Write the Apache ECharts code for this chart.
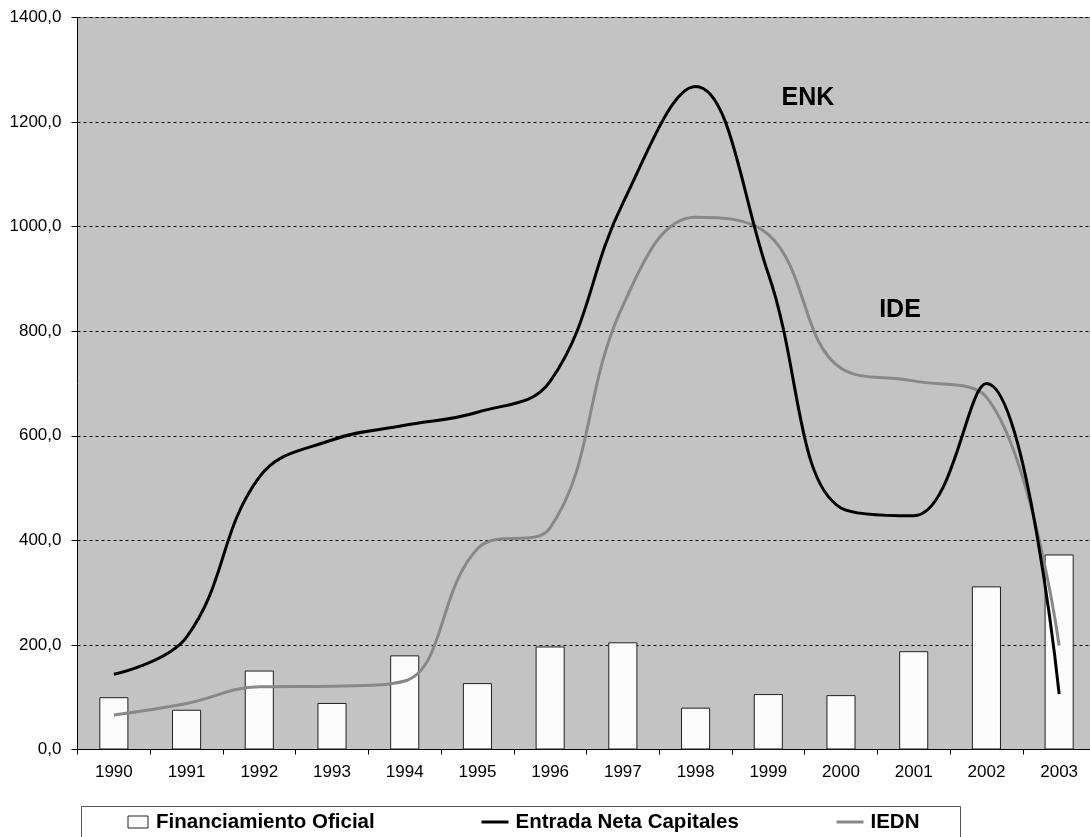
<!DOCTYPE html>
<html>
<head>
<meta charset="utf-8">
<script src="https://cdn.jsdelivr.net/npm/echarts@6/dist/echarts.min.js"></script>
<style>
html,body{margin:0;padding:0;background:#fff;}
#c{width:1090px;height:837px;}
</style>
</head>
<body>
<div id="c"></div>
<script>
const years = ['1990','1991','1992','1993','1994','1995','1996','1997','1998','1999','2000','2001','2002','2003'];
const financiamiento = [100, 76, 151, 89, 180, 127, 197, 205, 80, 106, 104, 188, 312, 373];
const entradaNeta = [144, 215, 521, 592, 620, 645, 704, 1045, 1268, 910, 462, 447, 700, 106];
const iedn = [66, 88, 120, 121, 131, 384, 424, 849, 1018, 985, 729, 705, 674, 199];
const yTicks = { min: 0, max: 1400, interval: 200 };

const FONT = '"Liberation Sans", Arial, sans-serif';
const chart = echarts.init(document.getElementById('c'), null, { renderer: 'canvas' });

chart.setOption({
  animation: false,
  backgroundColor: '#ffffff',
  grid: {
    left: 77.5, right: -5.5, top: 17.5, bottom: 87.5,
    show: true, backgroundColor: '#c3c3c3', borderColor: '#8a8a8a', borderWidth: 1,
    containLabel: false, outerBoundsMode: 'none'
  },
  xAxis: {
    type: 'category',
    data: years,
    boundaryGap: true,
    axisLine: { lineStyle: { color: '#000', width: 1 } },
    axisTick: { show: true, interval: 0, length: 5, lineStyle: { color: '#000' } },
    axisLabel: { interval: 0, color: '#000', fontFamily: FONT, fontSize: 17, margin: 14 },
    splitLine: { show: false }
  },
  yAxis: {
    type: 'value',
    min: yTicks.min, max: yTicks.max, interval: yTicks.interval,
    axisLine: { show: true, lineStyle: { color: '#000', width: 1 } },
    axisTick: { show: true, length: 6, lineStyle: { color: '#000' } },
    axisLabel: {
      color: '#000', fontFamily: FONT, fontSize: 17, margin: 16,
      formatter: v => v.toFixed(1).replace('.', ',')
    },
    splitLine: { show: true, lineStyle: { color: '#000', width: 1, type: [3, 3] } }
  },
  legend: [
    {
      data: [{ name: 'Financiamiento Oficial', icon: 'rect' }],
      left: 127.5, top: 811, padding: 0,
      itemWidth: 20, itemHeight: 12,
      itemStyle: { color: '#fcfcfc', borderColor: '#202020', borderWidth: 1 },
      textStyle: { fontFamily: FONT, fontSize: 20.5, fontWeight: 'bold', color: '#000', lineHeight: 22, padding: [0, 0, 0, 3] }
    },
    {
      data: [{ name: 'Entrada Neta Capitales', icon: 'rect' }],
      left: 481.5, top: 811, padding: 0,
      itemWidth: 27, itemHeight: 3,
      textStyle: { fontFamily: FONT, fontSize: 20.5, fontWeight: 'bold', color: '#000', lineHeight: 22, padding: [0, 0, 0, 2] }
    },
    {
      data: [{ name: 'IEDN', icon: 'rect' }],
      left: 836.5, top: 811, padding: 0,
      itemWidth: 27, itemHeight: 3,
      textStyle: { fontFamily: FONT, fontSize: 20.5, fontWeight: 'bold', color: '#000', lineHeight: 22, padding: [0, 0, 0, 2] }
    }
  ],
  graphic: [
    {
      type: 'rect', silent: true, z: -1,
      shape: { x: 81.5, y: 806.5, width: 879, height: 40 },
      style: { fill: '#fff', stroke: '#555', lineWidth: 1 }
    },
    {
      type: 'text', x: 808, y: 98,
      style: { text: 'ENK', fontFamily: FONT, fontSize: 25, fontWeight: 'bold', fill: '#000', textAlign: 'center', textVerticalAlign: 'middle' }
    },
    {
      type: 'text', x: 900, y: 310,
      style: { text: 'IDE', fontFamily: FONT, fontSize: 25, fontWeight: 'bold', fill: '#000', textAlign: 'center', textVerticalAlign: 'middle' }
    }
  ],
  series: [
    {
      name: 'Financiamiento Oficial',
      type: 'bar',
      data: financiamiento,
      barWidth: '40%',
      itemStyle: { color: '#fcfcfc', borderColor: '#202020', borderWidth: 1 },
      z: 2
    },
    {
      name: 'Entrada Neta Capitales',
      type: 'line',
      data: entradaNeta,
      smooth: 0.4,
      symbol: 'none',
      color: '#000',
      lineStyle: { color: '#000', width: 3 },
      z: 4
    },
    {
      name: 'IEDN',
      type: 'line',
      data: iedn,
      smooth: 0.4,
      symbol: 'none',
      color: '#888',
      lineStyle: { color: '#888', width: 3 },
      z: 3
    }
  ]
});
</script>
</body>
</html>
